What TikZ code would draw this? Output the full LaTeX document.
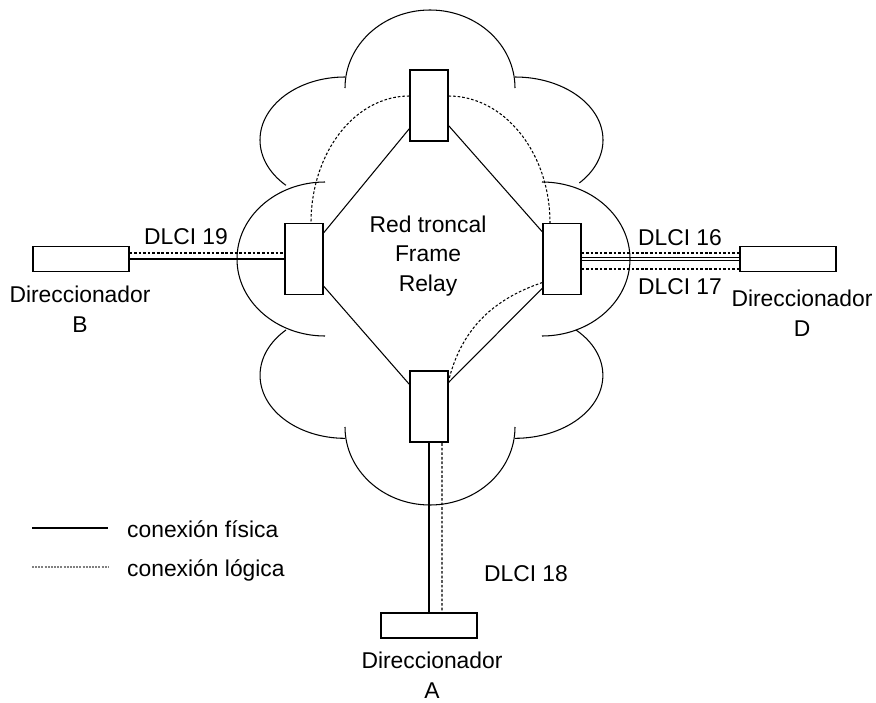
\documentclass[tikz,border=0pt]{standalone}
\usepackage{fontspec}
\setmainfont{Liberation Sans}
\usetikzlibrary{backgrounds}

\begin{document}
\begin{tikzpicture}[x=0.02cm, y=-0.02cm,
		every node/.style={font=\fontsize{13}{17}\selectfont},
		switch/.style={draw, fill=white, line width=0.6pt, inner sep=0pt, minimum width=0.76cm, minimum height=1.42cm},
		router/.style={draw, fill=white, line width=0.6pt, inner sep=0pt, minimum width=1.92cm, minimum height=0.5cm},
		fisica/.style={line width=0.6pt},
		logica/.style={line width=0.6pt, dash pattern=on 1.5pt off 1.1pt},
		etiqueta/.style={align=center}]
		\useasboundingbox (0,0) rectangle (876,703);
		
		% Switches of the Frame Relay network
		\node[switch] (sT) at (429,105.5) {};
		\node[switch] (sL) at (304,259) {};
		\node[switch] (sR) at (562,259) {};
		\node[switch] (sB) at (429,406.5) {};
		
		% Routers
		\node[router] (rB) at (81,259) {};
		\node[router] (rD) at (788,259) {};
		\node[router] (rA) at (429,625.5) {};
		
		\begin{pgfonlayer}{background}
		% Physical connections
		\draw[fisica] ([shift={(0,-13)}]sT.south west) -- ([shift={(0,10)}]sL.north east);
		\draw[fisica] ([shift={(0,-16)}]sT.south east) -- ([shift={(0,9)}]sR.north west);
		\draw[fisica] ([shift={(0,-9)}]sL.south east) -- ([shift={(0,14)}]sB.north west);
		\draw[fisica] ([shift={(0,-7)}]sR.south west) -- ([shift={(0,12)}]sB.north east);
		\draw[fisica] (rB.east) -- (sL.west);
		\draw[fisica, double, double distance=1.2pt] (sR.east) -- (rD.west);
		\draw[fisica] (sB.south) -- (rA.north);
		
		% Logical connections (DLCI)
		\draw[logica] ([shift={(0,-6)}]rB.east) -- ([shift={(0,-6)}]sL.west);
		\draw[logica] ([shift={(0,-9.5)}]sT.west) .. controls +(-55,0) and +(0,-70) .. ([shift={(7,0)}]sL.north);
		\draw[logica] ([shift={(0,-9.5)}]sT.east) .. controls +(56,0) and +(0,-70) .. ([shift={(-12,0)}]sR.north);
		\draw[logica] ([shift={(0,-6)}]sR.east) -- ([shift={(0,-6)}]rD.west);
		\draw[logica] ([shift={(0,10)}]sR.east) -- ([shift={(0,10)}]rD.west);
		\draw[logica] ([shift={(0,23.5)}]sR.west) .. controls +(-68,23) and +(0,-90) .. ([shift={(13,0)}]sB.south) -- ([shift={(13,0)}]rA.north);
		\end{pgfonlayer}
		
		% Cloud
		\draw[fisica] (345,88) arc[start angle=180, end angle=360, x radius=85, y radius=78];
		\draw[fisica] (345,77) arc[start angle=270, end angle=134, x radius=85, y radius=63];
		\draw[fisica] (515,77) arc[start angle=-90, end angle=43, x radius=88, y radius=63];
		\draw[fisica] (325,182) arc[start angle=270, end angle=90, x radius=88, y radius=77];
		\draw[fisica] (542,182) arc[start angle=-90, end angle=90, x radius=88, y radius=77];
		\draw[fisica] (286,330) arc[start angle=226, end angle=90, x radius=85, y radius=63];
		\draw[fisica] (576,330) arc[start angle=-46, end angle=90, x radius=88, y radius=63];
		\draw[fisica] (345,427) arc[start angle=180, end angle=0, x radius=85, y radius=78];
		
		% Labels
		\node[etiqueta] (red) at (428,256) {Red troncal\\Frame\\Relay};
		\node (dlci19) at (186,237) {DLCI 19};
		\node (dlci16) at (680,238) {DLCI 16};
		\node (dlci17) at (680,287) {DLCI 17};
		\node (dlci18) at (526,574) {DLCI 18};
		\node[etiqueta] (tB) at (80,309) {Direccionador\\B};
		\node[etiqueta] (tD) at (802,313) {Direccionador\\D};
		\node[etiqueta] (tA) at (432,675) {Direccionador\\A};
		
		% Legend
		\coordinate (lf1) at (32,528);
		\coordinate (lf2) at (108,528);
		\coordinate (ll1) at (32,567);
		\coordinate (ll2) at (108,567);
		\draw[fisica] (lf1) -- (lf2);
		\draw[logica, gray, dash pattern=on 1.1pt off 0.7pt] (ll1) -- (ll2);
		\node[anchor=west] (tf) at (121,529) {conexión física};
		\node[anchor=west] (tl) at (121,570) {conexión lógica};
	\end{tikzpicture}
\end{document}
